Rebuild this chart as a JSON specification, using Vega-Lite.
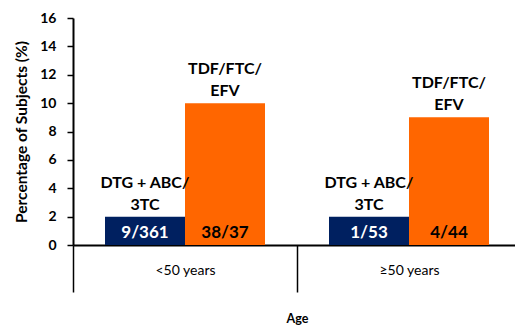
{
  "$schema": "https://vega.github.io/schema/vega-lite/v6.json",
  "autosize": "none",
  "padding": {"left": 73, "top": 18, "right": 0, "bottom": 83},
  "width": 448,
  "height": 227,
  "background": "white",
  "config": {
    "font": "Lato",
    "view": {"stroke": null},
    "axis": {"grid": false, "domainColor": "black", "tickColor": "black", "labelColor": "black", "titleColor": "black"}
  },
  "data": {
    "values": [
      {"age": "<50 years", "regimen": "DTG + ABC/\n3TC", "pct": 2, "count": "9/361"},
      {"age": "<50 years", "regimen": "TDF/FTC/\nEFV", "pct": 10, "count": "38/37"},
      {"age": "≥50 years", "regimen": "DTG + ABC/\n3TC", "pct": 2, "count": "1/53"},
      {"age": "≥50 years", "regimen": "TDF/FTC/\nEFV", "pct": 9, "count": "4/44"}
    ]
  },
  "encoding": {
    "x": {
      "field": "age",
      "type": "nominal",
      "sort": ["<50 years", "≥50 years"],
      "scale": {"paddingInner": 0, "paddingOuter": 0},
      "axis": {
        "title": "Age",
        "titleFontSize": 12.5,
        "titleFontWeight": "bold",
        "titleBaseline": "middle",
        "titleY": 73,
        "labelAngle": 0,
        "labelFontSize": 14,
        "labelFontWeight": "normal",
        "labelBaseline": "middle",
        "labelPadding": -22,
        "tickBand": "extent",
        "tickSize": 47,
        "tickWidth": 1.5,
        "domainWidth": 2
      }
    },
    "xOffset": {
      "field": "regimen",
      "type": "nominal",
      "sort": ["DTG + ABC/\n3TC", "TDF/FTC/\nEFV"],
      "scale": {"paddingInner": 0, "paddingOuter": 0.4}
    },
    "y": {
      "field": "pct",
      "type": "quantitative",
      "scale": {"domain": [0, 16], "nice": false},
      "axis": {
        "title": "Percentage of Subjects (%)",
        "titleFontSize": 15.5,
        "titleFontWeight": "bold",
        "titlePadding": 10,
        "values": [0, 2, 4, 6, 8, 10, 12, 14, 16],
        "labelFontSize": 14,
        "labelFontWeight": "bold",
        "labelPadding": 11,
        "tickSize": 6,
        "tickWidth": 1.5,
        "domainWidth": 2
      }
    }
  },
  "layer": [
    {
      "mark": {"type": "bar", "width": {"band": 1}},
      "encoding": {
        "color": {
          "field": "regimen",
          "type": "nominal",
          "scale": {"domain": ["DTG + ABC/\n3TC", "TDF/FTC/\nEFV"], "range": ["#002060", "#FF6600"]},
          "legend": null
        }
      }
    },
    {
      "mark": {"type": "text", "fontSize": 17, "fontWeight": "bold", "baseline": "alphabetic", "dy": -7},
      "encoding": {
        "y": {"datum": 0},
        "text": {"field": "count"},
        "color": {
          "condition": {"test": "datum.regimen === 'TDF/FTC/\\nEFV'", "value": "black"},
          "value": "white"
        }
      }
    },
    {
      "mark": {"type": "text", "fontSize": 16, "fontWeight": "bold", "baseline": "alphabetic", "dy": -29, "lineBreak": "\n", "lineHeight": 22, "color": "black"},
      "encoding": {
        "text": {"field": "regimen"}
      }
    }
  ]
}
